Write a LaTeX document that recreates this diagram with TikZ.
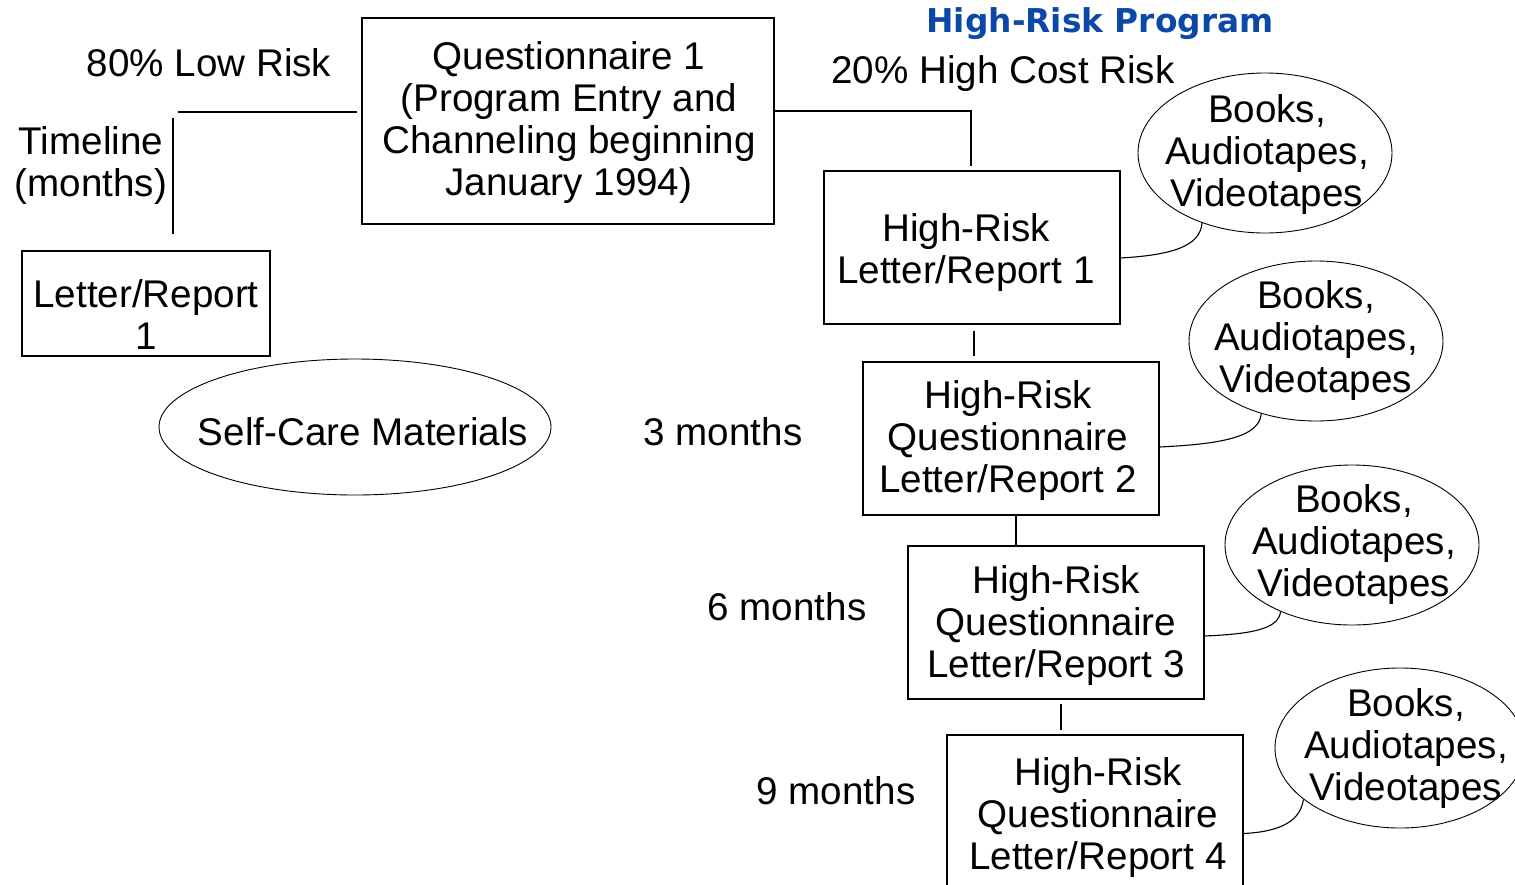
\documentclass[tikz,border=0pt]{standalone}
\usepackage{fontspec}
\setmainfont{Liberation Sans}
\newfontfamily\titlefont{DejaVu Sans}
\usetikzlibrary{shapes.geometric,calc}
\definecolor{titleblue}{RGB}{12,72,168}
\tikzset{
  every node/.style={font=\fontsize{38.6}{42}\selectfont, inner sep=0pt},
  txt/.style={align=center},
  box/.style={draw, line width=1.4pt, rectangle, minimum width=296pt, minimum height=153pt},
  bubble/.style={draw, line width=0.9pt, ellipse, minimum width=254pt, minimum height=160pt},
  link/.style={line width=1.2pt},
  curvelink/.style={line width=1.1pt},
}
\begin{document}
\begin{tikzpicture}[x=1pt,y=-1pt]
\useasboundingbox (0,0) rectangle (1515,884);
\fill[white] (0,0) rectangle (1515,884);

% title and labels
\node[txt, font=\titlefont\bfseries\fontsize{32.8}{38}\selectfont, text=titleblue] (title) at (1100,24) {High-Risk Program};
\node[txt] (low) at (209,63) {80\% Low Risk};
\node[txt] (high) at (1003,73.5) {20\% High Cost Risk};
\node[txt] (timeline) at (91,165.5) {Timeline\\(months)};
\node[txt] (m3) at (723,431.5) {3 months};
\node[txt] (m6) at (787,607) {6 months};
\node[txt] (m9) at (836,791) {9 months};

% Questionnaire 1
\node[box, minimum width=412pt, minimum height=206pt] (Q1) at (568,121) {};
\node[txt] (Q1t) at (569,122.5) {Questionnaire 1\\(Program Entry and\\Channeling beginning\\January 1994)};

% low risk branch
\node[box, minimum width=248pt, minimum height=105pt] (L1) at (146,303.5) {};
\node[txt] (L1t) at (146,314.5) {Letter/Report\\1};
\node[draw, line width=0.9pt, ellipse, minimum width=392pt, minimum height=136pt] (SC) at (355,427) {};
\node[txt] (SCt) at (363,432) {Self-Care Materials};

% high risk boxes
\node[box] (HR1) at (972,247.5) {};
\node[txt] (HR1t) at (966,252.5) {High-Risk\\Letter/Report 1};
\node[box] (HR2) at (1011,438.5) {};
\node[txt] (HR2t) at (1008,441) {High-Risk\\Questionnaire\\Letter/Report 2};
\node[box] (HR3) at (1056,622.5) {};
\node[txt] (HR3t) at (1056,625.5) {High-Risk\\Questionnaire\\Letter/Report 3};
\node[box] (HR4) at (1095,811.5) {};
\node[txt] (HR4t) at (1098,817.5) {High-Risk\\Questionnaire\\Letter/Report 4};

% bubbles
\node[bubble] (E1) at (1265,153) {};
\node[txt] (E1t) at (1267,155) {Books,\\Audiotapes,\\Videotapes};
\node[bubble] (E2) at (1316,341) {};
\node[txt] (E2t) at (1316,341) {Books,\\Audiotapes,\\Videotapes};
\node[bubble] (E3) at (1352,545) {};
\node[txt] (E3t) at (1354,544.5) {Books,\\Audiotapes,\\Videotapes};
\node[bubble, minimum width=250pt] (E4) at (1400,748) {};
\node[txt] (E4t) at (1406,748.5) {Books,\\Audiotapes,\\Videotapes};

% connectors
\coordinate (lowEnd) at (178,112);
\coordinate (tlA) at (173,118);
\coordinate (tlB) at (173,234);
\coordinate (hrTop) at (971,166);
\draw[link] ([xshift=-4pt,yshift=9pt]Q1.west) -- (lowEnd);
\draw[link] (tlA) -- (tlB);
\draw[link] ([yshift=10pt]Q1.east) -| (hrTop);

\coordinate (v1) at ($(HR1.south)+(2pt,0pt)$);
\draw[link, shorten <=6pt, shorten >=5pt] (v1) -- (v1 |- HR2.north);
\coordinate (v2) at ($(HR2.south)+(5pt,0pt)$);
\draw[link] (v2) -- (v2 |- HR3.north);
\coordinate (v3) at ($(HR3.south)+(5pt,0pt)$);
\draw[link, shorten <=4pt, shorten >=4pt] (v3) -- (v3 |- HR4.north);

\draw[curvelink] ([yshift=-10.5pt]HR1.east) .. controls +(50pt,3pt) and +(-2pt,-24pt) .. (E1.228);
\draw[curvelink] ([yshift=-8.5pt]HR2.east) .. controls +(60pt,3pt) and +(-2pt,-24pt) .. (E2.233);
\draw[curvelink] ([yshift=-13.5pt]HR3.east) .. controls +(45pt,2pt) and +(-2pt,-18pt) .. (E3.223);
\draw[curvelink] ([yshift=-22pt]HR4.east) .. controls +(40pt,2pt) and +(-3pt,-20pt) .. (E4.208);
\end{tikzpicture}
\end{document}
